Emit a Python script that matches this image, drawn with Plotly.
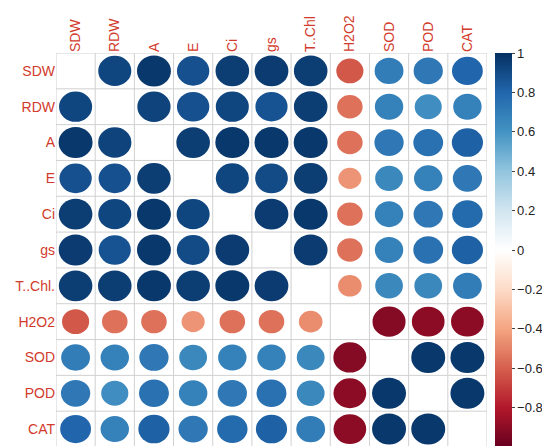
import numpy as np
import plotly.graph_objects as go
from plotly.colors import sample_colorscale


VARS = ["SDW", "RDW", "A", "E", "Ci", "gs", "T..Chl.", "H2O2", "SOD", "POD", "CAT"]
COL_LABELS = ["SDW", "RDW", "A", "E", "Ci", "gs", "T..Chl", "H2O2", "SOD", "POD", "CAT"]

# upper triangle of the correlation matrix, row by row
UPPER = [
    [0.92, 0.97, 0.88, 0.95, 0.96, 0.95, -0.62, 0.70, 0.72, 0.80],
    [0.93, 0.88, 0.92, 0.87, 0.95, -0.55, 0.68, 0.62, 0.68],
    [0.95, 0.97, 0.97, 0.97, -0.55, 0.72, 0.75, 0.82],
    [0.92, 0.90, 0.95, -0.45, 0.65, 0.68, 0.72],
    [0.96, 0.97, -0.55, 0.68, 0.72, 0.78],
    [0.96, -0.55, 0.68, 0.75, 0.82],
    [-0.47, 0.65, 0.65, 0.70],
    [-0.92, -0.90, -0.90],
    [0.97, 0.97],
    [0.97],
]

CBAR_TICKS = [-0.8, -0.6, -0.4, -0.2, 0, 0.2, 0.4, 0.6, 0.8, 1]

RDBU = [
    "#67001F", "#B2182B", "#D6604D", "#F4A582", "#FDDBC7", "#FFFFFF",
    "#D1E5F0", "#92C5DE", "#4393C3", "#2166AC", "#053061",
]
SCALE = [[i / (len(RDBU) - 1), c] for i, c in enumerate(RDBU)]
LABEL_COLOR = "#d23b2c"

n = len(VARS)
corr = np.eye(n)
for i, row in enumerate(UPPER):
    for k, v in enumerate(row):
        j = i + 1 + k
        corr[i, j] = v
        corr[j, i] = v

xs, ys, vals = [], [], []
for i in range(n):
    for j in range(n):
        if i != j:
            xs.append(j)
            ys.append(i)
            vals.append(corr[i, j])

fig = go.Figure()
# carries the colour bar; the ellipses below are drawn over it
fig.add_trace(go.Scatter(
    x=xs, y=ys, mode="markers", hoverinfo="skip",
    marker=dict(
        size=2, color=vals, colorscale=SCALE, cmin=-1, cmax=1,
        colorbar=dict(
            x=1, xanchor="left", xpad=8, y=0.5, len=1, ypad=0,
            thickness=17, outlinewidth=0,
            tickvals=CBAR_TICKS, ticks="outside", ticklen=3,
            tickcolor="#444", tickfont=dict(size=13, color="#222"),
        ),
    ),
))

shapes = []
# grid
for k in range(n + 1):
    shapes.append(dict(type="line", x0=k - 0.5, x1=k - 0.5, y0=-0.5, y1=n - 0.5,
                       line=dict(color="#d0d0d0", width=1), layer="below"))
    shapes.append(dict(type="line", y0=k - 0.5, y1=k - 0.5, x0=-0.5, x1=n - 0.5,
                       line=dict(color="#d0d0d0", width=1), layer="below"))

colors = sample_colorscale(SCALE, [(v + 1) / 2 for v in vals])
for x, y, v, c in zip(xs, ys, vals, colors):
    r = 0.44 * np.sqrt(abs(v))
    shapes.append(dict(type="circle", x0=x - r, x1=x + r, y0=y - r, y1=y + r,
                       fillcolor=c, line=dict(width=0), layer="above"))

fig.update_layout(
    width=550, height=446,
    margin=dict(l=44, r=60, t=42, b=7),
    paper_bgcolor="white", plot_bgcolor="white",
    showlegend=False,
    shapes=shapes,
    font=dict(family="Liberation Sans, Arial, sans-serif"),
    xaxis=dict(
        range=[-0.5, n - 0.5], side="top", tickvals=list(range(n)),
        ticktext=COL_LABELS, tickangle=-90, showgrid=False, zeroline=False,
        ticks="", tickfont=dict(size=14, color=LABEL_COLOR), fixedrange=True,
    ),
    yaxis=dict(
        range=[n - 0.5, -0.5], tickvals=list(range(n)), ticktext=VARS,
        showgrid=False, zeroline=False, ticks="",
        tickfont=dict(size=14, color=LABEL_COLOR), fixedrange=True,
    ),
)

fig.write_html("out.html")
